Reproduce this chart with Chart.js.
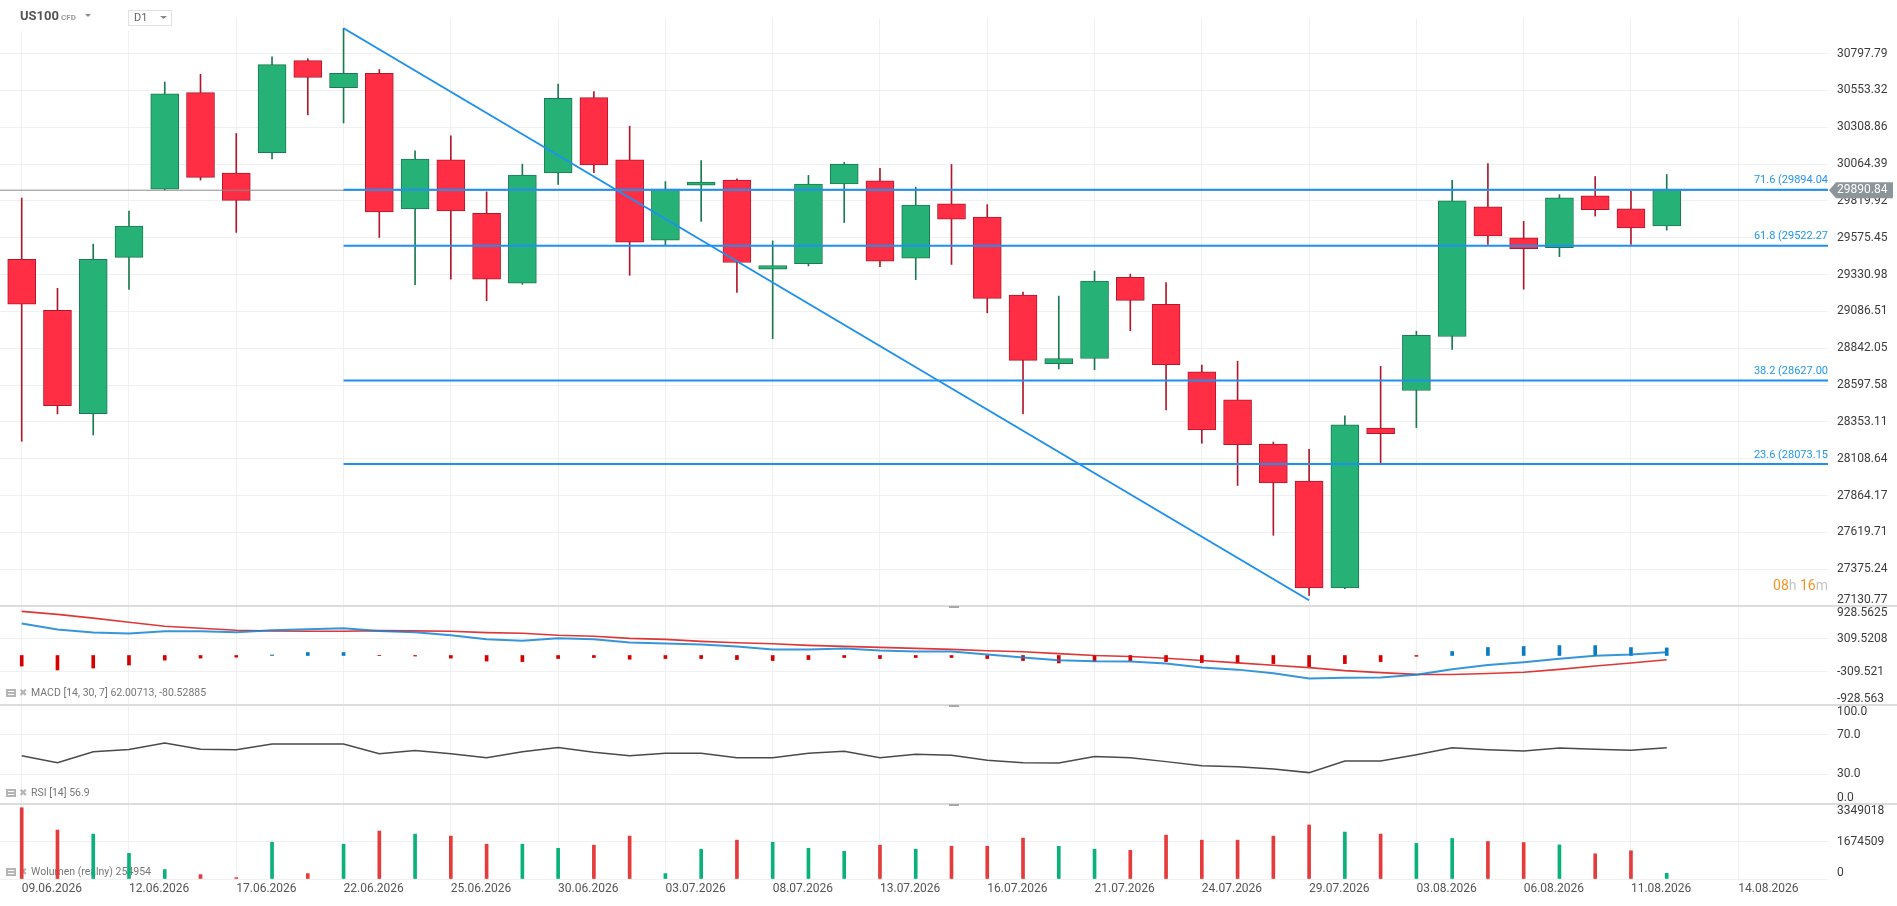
<!DOCTYPE html>
<html lang="en">
<head>
<meta charset="utf-8">
<title>US100 D1</title>
<script src="https://cdn.jsdelivr.net/npm/chart.js@4"></script>
<style>
  html, body { margin: 0; padding: 0; background: #fff; }
  #wrap { width: 1897px; height: 906px; }
</style>
</head>
<body>
<div id="wrap"><canvas id="chart" width="1897" height="906"></canvas></div>
<script>
// trading days shown on the chart
const dates = [
  '09.06.2026', '10.06.2026', '11.06.2026', '12.06.2026', '15.06.2026', '16.06.2026', '17.06.2026', '18.06.2026',
  '19.06.2026', '22.06.2026', '23.06.2026', '24.06.2026', '25.06.2026', '26.06.2026', '29.06.2026', '30.06.2026',
  '01.07.2026', '02.07.2026', '03.07.2026', '06.07.2026', '07.07.2026', '08.07.2026', '09.07.2026', '10.07.2026',
  '13.07.2026', '14.07.2026', '15.07.2026', '16.07.2026', '17.07.2026', '20.07.2026', '21.07.2026', '22.07.2026',
  '23.07.2026', '24.07.2026', '27.07.2026', '28.07.2026', '29.07.2026', '30.07.2026', '31.07.2026', '03.08.2026',
  '04.08.2026', '05.08.2026', '06.08.2026', '07.08.2026', '10.08.2026', '11.08.2026', '12.08.2026'
];
const futureDates = ['13.08.2026', '14.08.2026'];

// OHLC
const opens  = [29432, 29093, 28408, 29445, 29898, 30539, 30005, 30140, 30751, 30572, 30666, 29766, 30093, 29738, 29274, 30005,
                30505, 30093, 29559, 29924, 29958, 29367, 29404, 29932, 29953, 29440, 29800, 29712, 29194, 28740, 28774, 29313,
                29134, 28686, 28499, 28206, 27960, 27250, 28312, 28561, 28920, 29781, 29575, 29509, 29854, 29768, 29653];
const highs  = [29839, 29240, 29533, 29753, 30609, 30660, 30267, 30777, 30764, 30966, 30692, 30153, 30251, 29880, 30064, 30596,
                30546, 30316, 29948, 30088, 29966, 29554, 29989, 30075, 30036, 29911, 30062, 29795, 29214, 29188, 29354, 29334,
                29277, 28730, 28756, 28219, 28170, 28393, 28722, 28955, 29956, 30068, 29684, 29861, 29982, 29885, 29995];
const lows   = [28224, 28406, 28266, 29232, 29890, 29958, 29611, 30098, 30391, 30337, 29577, 29264, 29300, 29157, 29266, 29930,
                30007, 29326, 29523, 29683, 29212, 28906, 29388, 29676, 29383, 29297, 29398, 29077, 28406, 28704, 28699, 28958,
                28432, 28211, 27931, 27600, 27201, 27246, 28077, 28315, 28834, 29531, 29234, 29450, 29719, 29531, 29626];
const closes = [29134, 28460, 29432, 29652, 30531, 29976, 29823, 30725, 30640, 30666, 29746, 30098, 29753, 29300, 29992, 30500,
                30059, 29546, 29899, 29945, 29411, 29391, 29932, 30064, 29419, 29792, 29699, 29173, 28761, 28774, 29287, 29160,
                28732, 28299, 28201, 27947, 27250, 28333, 28274, 28927, 29821, 29587, 29503, 29841, 29761, 29640, 29890.84];

const volumes = [3183000, 2187000, 2006000, 1146000, 422000, 196000, 60000, 1644000, 241000, 1554000, 2142000, 2006000,
                 1916000, 1554000, 1554000, 1373000, 1509000, 1916000, 241000, 1328000, 1735000, 1644000, 1373000, 1237000,
                 1509000, 1328000, 1463000, 1463000, 1825000, 1463000, 1328000, 1282000, 1961000, 1735000, 1735000, 1916000,
                 2414000, 2097000, 2006000, 1590000, 1810000, 1675000, 1630000, 1526000, 1126000, 1260000, 254954];

const macdLine   = [600, 486, 430, 411, 455, 455, 436, 474, 493, 512, 461, 436, 379, 303, 278, 322, 303, 246, 227, 208, 171, 114,
                    114, 133, 95, 76, 76, 19, -38, -90, -110, -114, -152, -227, -265, -335, -430, -417, -411, -363, -257, -180,
                    -125, -62, -6, 19, 62.00713];
const macdSignal = [827, 771, 701, 625, 550, 512, 474, 461, 455, 455, 467, 461, 455, 430, 417, 379, 360, 322, 303, 265, 240, 221,
                    190, 171, 152, 133, 114, 88, 69, 35, 0, -19, -51, -95, -139, -183, -227, -284, -322, -354, -357, -338,
                    -313, -260, -198, -142, -80.52885];
const macdHist   = [-198, -272, -235, -179, -87, -49, -31, 10, 56, 56, -3, -10, -49, -105, -114, -57, -38, -70, -57, -57, -76,
                    -95, -76, -38, -57, -38, -38, -57, -95, -140, -110, -101, -114, -133, -139, -152, -208, -152, -114, -15, 75,
                    150, 169, 186, 186, 149, 142.5];

const rsiValues = [48.7, 41.7, 52.7, 55, 61.7, 55.3, 54.7, 60.7, 60.7, 60.7, 50.7, 54, 50.7, 46.7, 52.7, 57, 52.3, 48.7, 51.3,
                   51.3, 46.7, 46.7, 51.3, 53.3, 46.7, 50.3, 49.3, 44.3, 41.7, 41.5, 48, 46.8, 42.8, 38.7, 37.7, 35.4, 31.7, 43.4,
                   43.4, 49.8, 56.8, 54.9, 53.5, 56.6, 55.2, 54.2, 56.9];

// axis tick labels
const priceTicks = ['30797.79', '30553.32', '30308.86', '30064.39', '29819.92', '29575.45', '29330.98', '29086.51',
                    '28842.05', '28597.58', '28353.11', '28108.64', '27864.17', '27619.71', '27375.24', '27130.77'];
const macdTicks = ['928.5625', '309.5208', '-309.521', '-928.563'];
const rsiTicks = ['100.0', '70.0', '30.0', '0.0'];
const volumeTicks = ['3349018', '1674509', '0'];

// drawings
const fibLevels = ['71.6', '61.8', '38.2', '23.6'];
const fibPrices = [29894.04, 29522.27, 28627.00, 28073.15];
const fibStart = 9;
const trendIdx = [9, 36];
const trendPrices = [30966, 27169];
const lastPrice = 29890.84;

const UP = '#26b276', UP_EDGE = '#1b7a50';
const DOWN = '#ff2e45', DOWN_EDGE = '#b0192b';
const VOL_UP = '#0bb17a', VOL_DOWN = '#e53b3b';
const GRID = '#f0f0f0';
const FONT = 'Roboto, "Open Sans", sans-serif';

const allDates = dates.concat(futureDates);
const idx = dates.map((d, i) => i);
const up = idx.map(i => closes[i] >= opens[i]);
const lastX = allDates.length + 2;

function hline(price, color, width, from) {
  return {
    type: 'line', yAxisID: 'yPrice', order: 1,
    data: [{x: from, y: price}, {x: lastX, y: price}],
    borderColor: color, borderWidth: width, pointRadius: 0
  };
}

const datasets = [
  // fibonacci levels + trend line
  ...fibPrices.map(p => hline(p, '#1e90f0', 2, fibStart)),
  {
    type: 'line', yAxisID: 'yPrice', order: 1,
    data: trendIdx.map((x, k) => ({x: x, y: trendPrices[k]})),
    borderColor: '#1e90f0', borderWidth: 2, pointRadius: 0
  },
  hline(lastPrice, '#8a8a8a', 1, -2),
  // candle bodies
  {
    type: 'bar', yAxisID: 'yPrice', order: 3, grouped: false,
    data: idx.map(i => ({x: i, y: [opens[i], closes[i]]})),
    backgroundColor: idx.map(i => up[i] ? UP : DOWN),
    borderColor: idx.map(i => up[i] ? UP_EDGE : DOWN_EDGE),
    borderWidth: 1, borderSkipped: false, barThickness: 28
  },
  // wicks
  {
    type: 'bar', yAxisID: 'yPrice', order: 4, grouped: false,
    data: idx.map(i => ({x: i, y: [lows[i], highs[i]]})),
    backgroundColor: idx.map(i => up[i] ? UP_EDGE : DOWN_EDGE),
    borderWidth: 0, barThickness: 1
  },
  // MACD
  {
    type: 'line', yAxisID: 'yMacd', order: 1,
    data: idx.map(i => ({x: i, y: macdLine[i]})),
    borderColor: 'rgba(20,130,210,0.85)', borderWidth: 2, pointRadius: 0
  },
  {
    type: 'line', yAxisID: 'yMacd', order: 1,
    data: idx.map(i => ({x: i, y: macdSignal[i]})),
    borderColor: 'rgba(215,20,20,0.85)', borderWidth: 1.6, pointRadius: 0
  },
  {
    type: 'bar', yAxisID: 'yMacd', order: 2, grouped: false,
    data: idx.map(i => ({x: i, y: macdHist[i]})),
    backgroundColor: idx.map(i => macdHist[i] >= 0 ? '#0a7cc4' : '#d50000'),
    borderWidth: 0, barThickness: 3
  },
  // RSI
  {
    type: 'line', yAxisID: 'yRsi', order: 1,
    data: idx.map(i => ({x: i, y: rsiValues[i]})),
    borderColor: '#4a4a4a', borderWidth: 1.5, pointRadius: 0
  },
  // volume
  {
    type: 'bar', yAxisID: 'yVol', order: 1, grouped: false,
    data: idx.map(i => ({x: i, y: volumes[i]})),
    backgroundColor: idx.map(i => up[i] ? VOL_UP : VOL_DOWN),
    borderWidth: 0, barThickness: 3
  }
];

function paneAxis(ticks, min, max, weight) {
  return {
    type: 'linear', position: 'right', stack: 'panes', stackWeight: weight,
    min: min, max: max,
    grid: { color: GRID, drawTicks: false },
    border: { display: false },
    ticks: { display: false },
    afterBuildTicks: s => { s.ticks = ticks.map(t => ({value: Number(t)})); },
    afterFit: s => { s.width = 69; }
  };
}

const panes = [
  ['yPrice', priceTicks],
  ['yMacd', macdTicks],
  ['yRsi', rsiTicks],
  ['yVol', volumeTicks]
];

function drawIcon(ctx, x, y) {
  ctx.fillStyle = '#b5b5b5';
  ctx.fillRect(x, y - 4, 10, 8);
  ctx.fillStyle = '#fff';
  ctx.fillRect(x + 2, y - 2, 6, 1);
  ctx.fillRect(x + 2, y + 1, 6, 1);
  ctx.fillStyle = '#b5b5b5';
  ctx.font = '10px "DejaVu Sans"';
  ctx.textAlign = 'left';
  ctx.textBaseline = 'middle';
  ctx.fillText('\u2716', x + 13, y);
}

const paneDecor = {
  id: 'paneDecor',
  beforeDraw(chart) {
    const ctx = chart.ctx;
    ctx.save();
    ctx.fillStyle = '#fff';
    ctx.fillRect(0, 0, chart.width, chart.height);
    ctx.restore();
  },
  beforeDatasetsDraw(chart) {
    const ctx = chart.ctx, s = chart.scales;
    ctx.save();
    const labels = [
      [s.yMacd.bottom - 12, 'MACD [14, 30, 7] ' + macdLine[macdLine.length - 1].toFixed(5) + ', ' + macdSignal[macdSignal.length - 1].toFixed(5)],
      [s.yRsi.bottom - 11, 'RSI [14] ' + rsiValues[rsiValues.length - 1].toFixed(1)],
      [s.yVol.bottom - 7, 'Wolumen (realny) ' + volumes[volumes.length - 1]]
    ];
    labels.forEach(([y, text]) => {
      drawIcon(ctx, 6, y);
      ctx.fillStyle = '#777';
      ctx.font = '10.5px ' + FONT;
      ctx.textAlign = 'left';
      ctx.textBaseline = 'middle';
      ctx.fillText(text, 31, y);
    });
    ctx.restore();
  },
  afterDraw(chart) {
    const ctx = chart.ctx, area = chart.chartArea, s = chart.scales;
    ctx.save();

    // pane separators and handles
    ['yMacd', 'yRsi', 'yVol'].forEach(id => {
      const y = s[id].top;
      ctx.fillStyle = '#dcdcdc';
      ctx.fillRect(0, y - 1, chart.width, 2);
      ctx.fillStyle = '#a8a8a8';
      ctx.fillRect(949, y, 10, 2);
    });

    // y axis labels, clamped inside each pane
    ctx.font = '12px ' + FONT;
    ctx.fillStyle = '#3c3c3c';
    ctx.textAlign = 'left';
    ctx.textBaseline = 'middle';
    panes.forEach(([id, ticks]) => {
      const sc = s[id];
      ticks.forEach(t => {
        let y = sc.getPixelForValue(Number(t));
        y = Math.min(Math.max(y, sc.top + 7), sc.bottom - 6);
        ctx.fillText(t, area.right + 9, y);
      });
    });

    // fibonacci labels (clipped at the plot edge)
    ctx.save();
    ctx.beginPath();
    ctx.rect(area.left, 0, area.right - area.left, chart.height);
    ctx.clip();
    ctx.font = '11px ' + FONT;
    ctx.fillStyle = '#2196f3';
    fibLevels.forEach((lvl, k) => {
      const full = lvl + ' (' + fibPrices[k].toFixed(2) + ')';
      const x = area.right - ctx.measureText(full.slice(0, -1)).width;
      ctx.fillText(full, x, s.yPrice.getPixelForValue(fibPrices[k]) - 9);
    });
    ctx.restore();

    // last price tag
    const py = s.yPrice.getPixelForValue(lastPrice);
    ctx.fillStyle = '#8c9599';
    ctx.beginPath();
    ctx.moveTo(area.right + 1, py);
    ctx.lineTo(area.right + 8, py - 8);
    ctx.lineTo(chart.width - 4, py - 8);
    ctx.lineTo(chart.width - 4, py + 8);
    ctx.lineTo(area.right + 8, py + 8);
    ctx.closePath();
    ctx.fill();
    ctx.fillStyle = '#fff';
    ctx.font = '12px ' + FONT;
    ctx.fillText(lastPrice.toFixed(2), area.right + 9, py);

    // countdown
    ctx.font = '14px ' + FONT;
    const parts = [['08', '#f7931e'], ['h ', '#c4c4c4'], ['16', '#f7931e'], ['m', '#c4c4c4']];
    let total = 0;
    parts.forEach(p => { total += ctx.measureText(p[0]).width; });
    let cx = area.right - total;
    const cy = s.yPrice.bottom - 20;
    parts.forEach(p => {
      ctx.fillStyle = p[1];
      ctx.fillText(p[0], cx, cy);
      cx += ctx.measureText(p[0]).width;
    });

    // header
    ctx.fillStyle = '#fff';
    ctx.fillRect(0, 0, 180, 31);
    ctx.fillStyle = '#555';
    ctx.font = 'bold 13px ' + FONT;
    ctx.fillText('US100', 20, 17);
    ctx.fillStyle = '#9a9a9a';
    ctx.font = 'bold 8px ' + FONT;
    ctx.fillText('CFD', 61, 18);
    ctx.fillStyle = '#888';
    ctx.beginPath();
    ctx.moveTo(85, 14); ctx.lineTo(91, 14); ctx.lineTo(88, 17); ctx.closePath(); ctx.fill();
    ctx.strokeStyle = '#e2e2e2';
    ctx.lineWidth = 1;
    ctx.strokeRect(128.5, 10.5, 43, 15);
    ctx.fillStyle = '#666';
    ctx.font = '11px ' + FONT;
    ctx.fillText('D1', 134, 18);
    ctx.fillStyle = '#888';
    ctx.beginPath();
    ctx.moveTo(160, 16); ctx.lineTo(167, 16); ctx.lineTo(163.5, 19); ctx.closePath(); ctx.fill();

    ctx.restore();
  }
};

const scales = {
  x: {
    type: 'linear', position: 'bottom',
    min: -0.607, max: 50.51, offset: false,
    grid: { color: GRID, drawTicks: false, offset: false },
    border: { display: false },
    ticks: {
      align: 'start', padding: 3, color: '#555', font: { family: FONT, size: 12 },
      callback: v => allDates[v]
    },
    afterBuildTicks: s => {
      s.ticks = allDates.map((d, i) => i).filter(i => i % 3 === 0).map(v => ({value: v}));
    },
    afterFit: s => { s.height = 27; }
  },
  yPrice: paneAxis(priceTicks, 27130.77, 31034, 588),
  yMacd: paneAxis(macdTicks, -928.563, 928.5625, 99),
  yRsi: paneAxis(rsiTicks, 0, 100, 99),
  yVol: paneAxis(volumeTicks, 0, 3349018, 75)
};

new Chart(document.getElementById('chart'), {
  type: 'bar',
  data: { datasets: datasets },
  options: {
    responsive: false,
    animation: false,
    layout: { padding: { top: 18, left: 0, right: 0, bottom: 0 } },
    plugins: { legend: { display: false }, tooltip: { enabled: false } },
    scales: scales
  },
  plugins: [paneDecor]
});
</script>
</body>
</html>
